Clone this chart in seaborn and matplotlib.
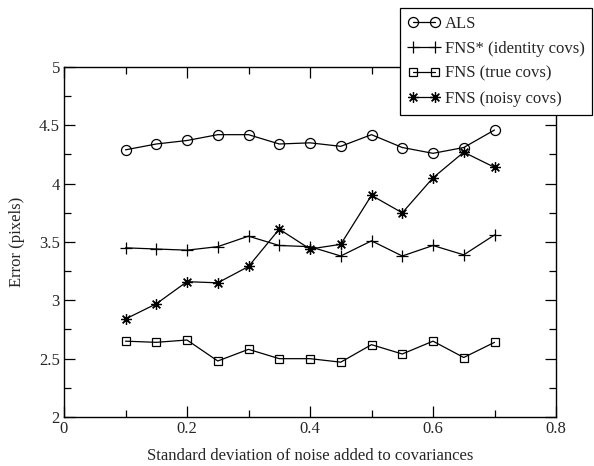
import matplotlib
matplotlib.use("Agg")
import matplotlib.pyplot as plt
import seaborn as sns
import pandas as pd
from matplotlib.ticker import MultipleLocator, FuncFormatter

noise_sd = [0.1, 0.15, 0.2, 0.25, 0.3, 0.35, 0.4, 0.45, 0.5, 0.55, 0.6, 0.65, 0.7]
als = [4.29, 4.34, 4.37, 4.42, 4.42, 4.34, 4.35, 4.32, 4.42, 4.31, 4.26, 4.31, 4.46]
fns_identity = [3.45, 3.44, 3.43, 3.46, 3.55, 3.47, 3.46, 3.38, 3.51, 3.38, 3.47, 3.39, 3.56]
fns_true = [2.65, 2.64, 2.66, 2.48, 2.58, 2.50, 2.50, 2.47, 2.62, 2.54, 2.65, 2.51, 2.64]
fns_noisy = [2.84, 2.97, 3.16, 3.15, 3.29, 3.61, 3.44, 3.48, 3.90, 3.75, 4.05, 4.27, 4.14]

series_names = ["ALS", "FNS* (identity covs)", "FNS (true covs)", "FNS (noisy covs)"]
series_values = [als, fns_identity, fns_true, fns_noisy]

rows = []
for name, vals in zip(series_names, series_values):
    for x, v in zip(noise_sd, vals):
        rows.append({"x": x, "y": v, "method": name})
df = pd.DataFrame(rows)

sns.set_style("ticks")
plt.rcParams["font.family"] = ["Liberation Serif", "DejaVu Serif"]
plt.rcParams["font.size"] = 11

fig = plt.figure(figsize=(5.94, 4.66), dpi=100)
ax = fig.add_axes([64/594, 49/466, 492/594, 350/466])

markers = {"ALS": "o", "FNS* (identity covs)": "+", "FNS (true covs)": "s",
           "FNS (noisy covs)": (8, 2, 0)}
sizes = {"ALS": 8.5, "FNS* (identity covs)": 10, "FNS (true covs)": 7.5, "FNS (noisy covs)": 9}

for name in series_names:
    sub = df[df["method"] == name]
    sns.lineplot(data=sub, x="x", y="y", ax=ax, color="black", linewidth=0.9,
                 marker=markers[name], markersize=sizes[name],
                 markerfacecolor="none", markeredgecolor="black", markeredgewidth=0.9,
                 label=name, legend=False)

ax.set_xlim(0, 0.8)
ax.set_ylim(2, 5)
ax.xaxis.set_major_locator(MultipleLocator(0.2))
ax.xaxis.set_minor_locator(MultipleLocator(0.1))
ax.yaxis.set_major_locator(MultipleLocator(0.5))
ax.yaxis.set_minor_locator(MultipleLocator(0.25))
ax.xaxis.set_major_formatter(FuncFormatter(lambda v, p: "%g" % round(v, 2)))
ax.yaxis.set_major_formatter(FuncFormatter(lambda v, p: "%g" % round(v, 2)))
ax.tick_params(which="both", direction="in", top=True, right=True, color="black",
               labelsize=12, pad=3)
ax.tick_params(which="major", length=8, width=0.9)
ax.tick_params(which="minor", length=5, width=0.9)
for s in ax.spines.values():
    s.set_visible(True)
    s.set_color("black")
    s.set_linewidth(1.0)

ax.set_xlabel("Standard deviation of noise added to covariances", fontsize=12, labelpad=8)
ax.set_ylabel("Error (pixels)", fontsize=12, labelpad=10)

handles, labels = ax.get_legend_handles_labels()
for h in handles:
    h.set_markersize(h.get_markersize() * 0.85)
leg = fig.legend(handles, labels, loc="upper right", bbox_to_anchor=(592/594, 1 - 8/466),
                 frameon=True, fancybox=False, edgecolor="black", framealpha=1,
                 fontsize=12, numpoints=2, handlelength=1.9, handletextpad=0.3,
                 borderpad=0.45, labelspacing=0.55, borderaxespad=0)
leg.get_frame().set_linewidth(0.9)

fig.savefig("out.png", dpi=100)
